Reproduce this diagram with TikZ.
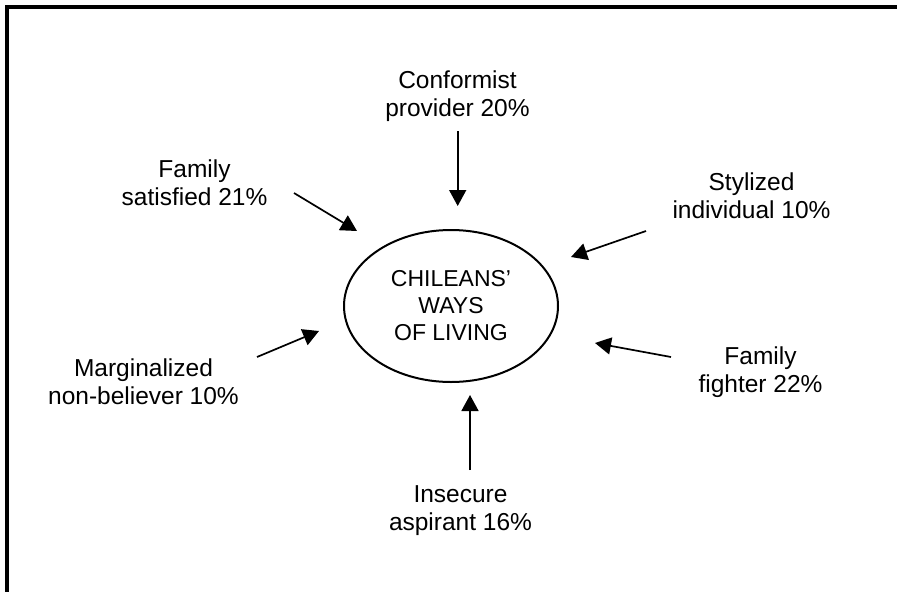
\documentclass[tikz,border=0pt]{standalone}
\usepackage{fontspec}
\setmainfont{Liberation Sans}
\usetikzlibrary{arrows.meta,shapes.geometric}
\tikzset{
  lbl/.style={align=center,inner sep=0pt,font=\fontsize{24.5}{28}\selectfont},
  ctr/.style={draw,line width=2pt,ellipse,inner sep=0pt,minimum width=214pt,minimum height=152pt},
  ctrtext/.style={align=center,inner sep=0pt,font=\fontsize{23}{27}\selectfont},
  arr/.style={line width=1.7pt,-{Triangle[length=16pt,width=17pt]}},
  frame/.style={line width=4pt,line join=miter}
}
\begin{document}
\begin{tikzpicture}[x=1pt,y=-1pt]
\useasboundingbox (0,0) rectangle (897,592);
\draw[frame] (897,6.5) -- (6.5,6.5) -- (6.5,592);
\node[ctr] (e) at (451,306) {};
\node[ctrtext] (et) at (451,308.5) {CHILEANS’\strut\\WAYS\strut\\OF LIVING\strut};
\node[lbl] (conf) at (457.5,96.4) {Conformist\strut\\provider 20\%\strut};
\node[lbl] (fs) at (194.5,185.4) {Family\strut\\satisfied 21\%\strut};
\node[lbl] (si) at (751.5,198.4) {Stylized\strut\\individual 10\%\strut};
\node[lbl] (mn) at (143.5,384.4) {Marginalized\strut\\non-believer 10\%\strut};
\node[lbl] (ff) at (760.5,372.4) {Family\strut\\fighter 22\%\strut};
\node[lbl] (ia) at (460.5,510.4) {Insecure\strut\\aspirant 16\%\strut};
\coordinate (conf-s) at (457.7,131);
\coordinate (conf-t) at (457.7,206);
\coordinate (fs-s) at (294,193);
\coordinate (fs-t) at (357,231);
\coordinate (si-s) at (646,231);
\coordinate (si-t) at (571,257);
\coordinate (mn-s) at (257,357);
\coordinate (mn-t) at (319,331);
\coordinate (ff-s) at (671,357);
\coordinate (ff-t) at (595,343);
\coordinate (ia-s) at (470,470);
\coordinate (ia-t) at (470,395);
\draw[arr] (conf-s) -- (conf-t);
\draw[arr] (fs-s) -- (fs-t);
\draw[arr] (si-s) -- (si-t);
\draw[arr] (mn-s) -- (mn-t);
\draw[arr] (ff-s) -- (ff-t);
\draw[arr] (ia-s) -- (ia-t);
\end{tikzpicture}
\end{document}
